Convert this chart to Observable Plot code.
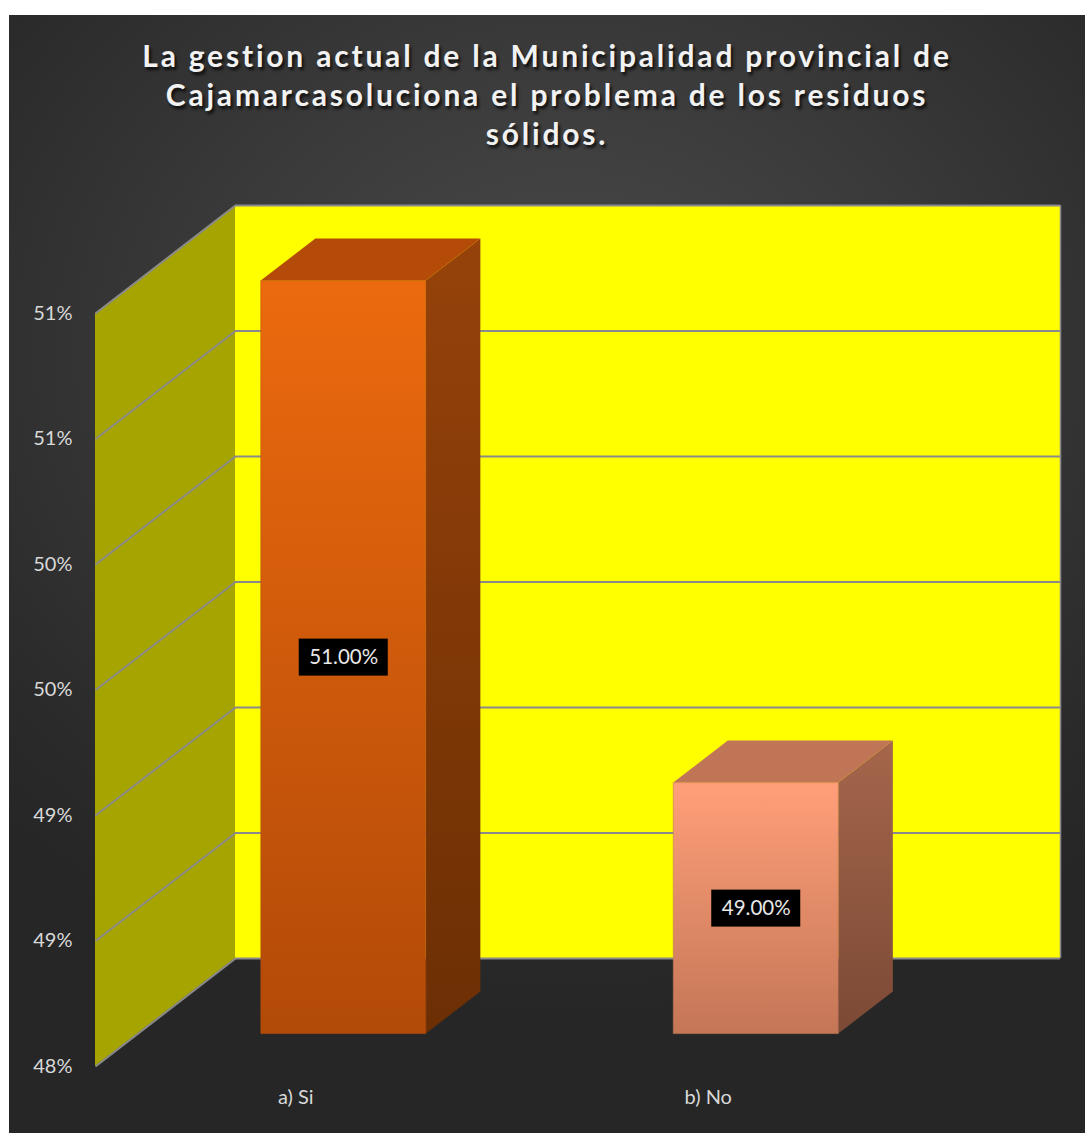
<!DOCTYPE html>
<html>
<head>
<meta charset="utf-8">
<script src="https://cdn.jsdelivr.net/npm/d3@7"></script>
<script src="https://cdn.jsdelivr.net/npm/@observablehq/plot@0.6"></script>
<style>
  html, body { margin: 0; padding: 0; background: #ffffff; }
  #panel {
    position: absolute; left: 9px; top: 15px; width: 1076px; height: 1118px;
    background: radial-gradient(ellipse 75% 60% at 52% 30%, #4a4a4a 0%, #3a3a3a 45%, #2a2a2a 85%, #262626 100%);
    overflow: hidden;
  }
  #title {
    height: 164px; padding-top: 21px; box-sizing: content-box;
    text-align: center; color: #f2f2f2;
    font-family: Lato, "Open Sans", sans-serif; font-weight: bold;
    font-size: 30px; line-height: 39px; letter-spacing: 2.8px;
    text-shadow: 2px 3px 3px rgba(0,0,0,0.75);
  }
  #chart svg { display: block; }
</style>
</head>
<body>
<div id="panel">
  <div id="title">La gestion actual de la Municipalidad provincial de<br>Cajamarcasoluciona el problema de los residuos<br>sólidos.</div>
  <div id="chart"></div>
</div>
<script>
// ---- data ----
const categories = ["a) Si", "b) No"];
const values = [51, 49];
const valueLabels = ["51.00%", "49.00%"];
const yTicks = [48, 48.5, 49, 49.5, 50, 50.5, 51];
const yTickLabels = ["48%", "49%", "49%", "50%", "50%", "51%", "51%"];

// ---- 3D projection settings (style) ----
const W = 1076, H = 933;
const X0 = 86, X1 = 911;          // front plane x range
const YB = 866, YT = 113;         // front plane y range (48 → 51)
const kx = (X1 - X0) / 2, ky = (YB - YT) / 3;
const DX = 140 / kx, DY = 108 / ky;   // full depth offset in data units
const D0 = 0.3, D1 = 0.69;            // bar depth span
const yMin = 48, yMax = 51;

const bars = categories.map((c, i) => ({cat: c, i, v: values[i], label: valueLabels[i]}));

const palette = [
  {front: ["#ec6a0e", "#b24a08"], side: ["#96420a", "#6c2f04"], top: "#b44b08"},
  {front: ["#ff9f79", "#c47656"], side: ["#a5664b", "#7b4935"], top: "#c07556"}
];

const defs = () => {
  const d = d3.create("svg:defs");
  palette.forEach((p, i) => {
    [["front", p.front], ["side", p.side]].forEach(([name, cols]) => {
      const g = d.append("linearGradient").attr("id", `${name}${i}`)
        .attr("x1", 0).attr("y1", 0).attr("x2", 0).attr("y2", 1);
      g.append("stop").attr("offset", "0%").attr("stop-color", cols[0]);
      g.append("stop").attr("offset", "100%").attr("stop-color", cols[1]);
    });
  });
  const f = d.append("filter").attr("id", "shadow").attr("x", "-50%").attr("y", "-50%").attr("width", "200%").attr("height", "200%");
  f.append("feGaussianBlur").attr("stdDeviation", 5);
  return d.node();
};

const gridColor = "#8a8a8a";

const barMarks = bars.flatMap((b, i) => {
  const xl = b.i + 0.3, xr = b.i + 0.7;
  const p = palette[i];
  return [
    // floor shadow
    Plot.areaY([
      {x: xl - 0.04 + D0 * DX, y1: yMin + D0 * DY - 0.02, y2: yMin + D0 * DY + 0.06},
      {x: xr + 0.02 + D1 * DX, y1: yMin + D1 * DY - 0.02, y2: yMin + D1 * DY + 0.06}
    ], {x: "x", y1: "y1", y2: "y2", fill: "#000", fillOpacity: 0.7, filter: "url(#shadow)"}),
    // side face
    Plot.areaY([
      {x: xr + D0 * DX, y1: yMin + D0 * DY, y2: b.v + D0 * DY},
      {x: xr + D1 * DX, y1: yMin + D1 * DY, y2: b.v + D1 * DY}
    ], {x: "x", y1: "y1", y2: "y2", fill: `url(#side${i})`}),
    // top face
    Plot.areaX([
      {y: b.v + D0 * DY, x1: xl + D0 * DX, x2: xr + D0 * DX},
      {y: b.v + D1 * DY, x1: xl + D1 * DX, x2: xr + D1 * DX}
    ], {y: "y", x1: "x1", x2: "x2", fill: p.top}),
    // front face
    Plot.rect([b], {
      x1: xl + D0 * DX, x2: xr + D0 * DX,
      y1: yMin + D0 * DY, y2: d => d.v + D0 * DY,
      fill: `url(#front${i})`, stroke: p.top, strokeOpacity: 0.5, strokeWidth: 1
    })
  ];
});

const labelPos = bars.map(b => ({
  x: b.i + 0.5 + D0 * DX,
  y: (yMin + b.v) / 2 + D0 * DY,
  label: b.label
}));

const chart = Plot.plot({
  width: W, height: H,
  margin: 0,
  x: {type: "linear", domain: [0, 2], range: [X0, X1], axis: null},
  y: {type: "linear", domain: [yMin, yMax], range: [YB, YT], axis: null},
  style: {background: "transparent", fontFamily: "Lato, 'Open Sans', sans-serif"},
  marks: [
    defs,
    // back wall
    Plot.rect([0], {x1: DX, x2: 2 + DX, y1: yMin + DY, y2: yMax + DY, fill: "#ffff00"}),
    Plot.ruleY(yTicks, {y: d => d + DY, x1: DX, x2: 2 + DX, stroke: gridColor, strokeWidth: 2}),
    Plot.ruleX([0], {x: 2 + DX, y1: yMin + DY, y2: yMax + DY, stroke: gridColor, strokeWidth: 1.5}),
    // left side wall
    Plot.areaY([
      {x: 0, y1: yMin, y2: yMax},
      {x: DX, y1: yMin + DY, y2: yMax + DY}
    ], {x: "x", y1: "y1", y2: "y2", fill: "#a6a400"}),
    Plot.link(yTicks, {x1: 0, y1: d => d, x2: DX, y2: d => d + DY, stroke: gridColor, strokeWidth: 2}),
    // bars
    ...barMarks,
    // value labels
    Plot.rect(labelPos, {x1: "x", x2: "x", y1: "y", y2: "y",
      insetLeft: -44.5, insetRight: -44.5, insetTop: -18.5, insetBottom: -18.5, fill: "#000"}),
    Plot.text(labelPos, {x: "x", y: "y", text: "label", fill: "#e8e8e8", fontSize: 20.5}),
    // y tick labels
    Plot.text(yTicks, {x: 0, y: d => d, text: (d, i) => yTickLabels[i], textAnchor: "end",
      dx: -23, fill: "#d9d9d9", fontSize: 20}),
    // x category labels
    Plot.text(bars, {x: d => d.i + 0.5, y: yMin, text: "cat", dx: -6, dy: 31,
      fill: "#d9d9d9", fontSize: 20})
  ]
});
document.getElementById("chart").appendChild(chart);
</script>
</body>
</html>
